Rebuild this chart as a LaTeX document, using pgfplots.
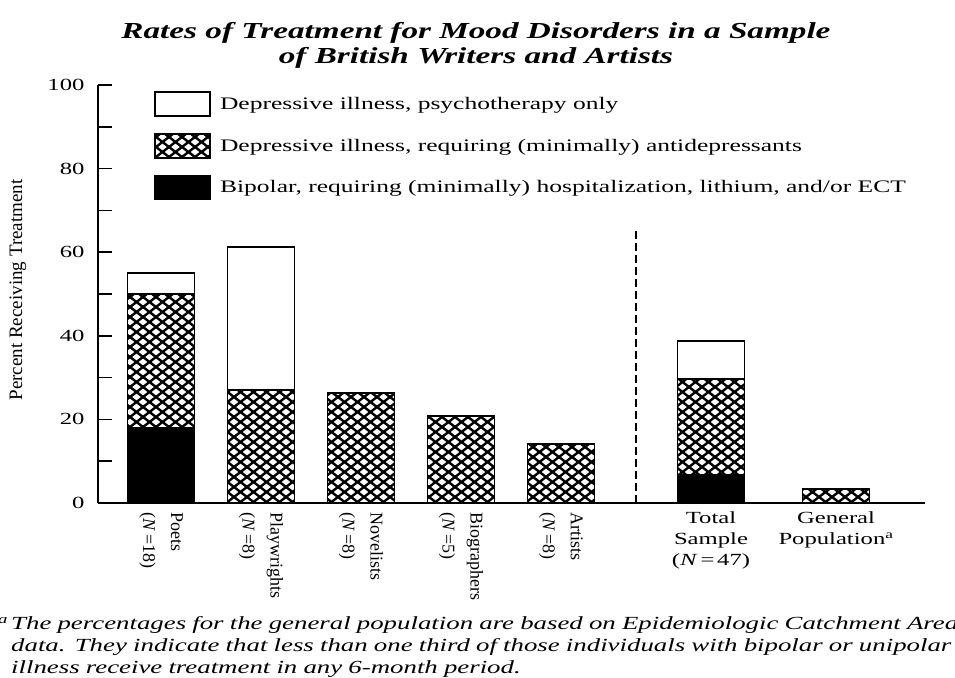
\documentclass[border=0pt]{standalone}
\usepackage{fontspec}
\setmainfont{Liberation Serif}[FakeStretch=1.45]
\newfontfamily\plainfont{Liberation Serif}
\usepackage{pgfplots}
\pgfplotsset{compat=1.18}
\usetikzlibrary{patterns}

\pgfdeclarepatternformonly{bigcross}{\pgfpoint{-2pt}{-2pt}}{\pgfpoint{15pt}{12pt}}{\pgfpoint{13pt}{10pt}}{%
  \pgfsetlinewidth{2.4pt}%
  \pgfpathmoveto{\pgfpoint{0pt}{0pt}}\pgfpathlineto{\pgfpoint{13pt}{10pt}}%
  \pgfpathmoveto{\pgfpoint{0pt}{10pt}}\pgfpathlineto{\pgfpoint{13pt}{0pt}}%
  \pgfusepath{stroke}}

\pgfplotsset{mylegend/.style={legend image code/.code={%
  \draw[##1, line width=1.6pt] (0pt,-12pt) rectangle (55pt,12pt);
  \path (62pt,0pt);}}}

\tikzset{vlab/.style={rotate=-90, anchor=west, align=left, font=\plainfont\fontsize{18}{28}\selectfont, inner sep=0pt}}

\begin{document}
\begin{tikzpicture}[x=1pt,y=1pt]
\useasboundingbox (0,0) rectangle (955,677);
\begin{axis}[
  at={(98pt,174pt)}, anchor=south west,
  scale only axis, width=827pt, height=418pt,
  xmin=-0.63, xmax=7.64, ymin=0, ymax=100,
  axis x line=bottom, axis y line=left,
  axis line style={line width=1.8pt, -},
  ytick={0,20,...,100}, minor ytick={10,30,...,90},
  xtick=\empty,
  tick style={line width=1.5pt, black},
  major tick length=14pt, minor tick length=14pt,
  tick align=inside,
  yticklabel style={font=\fontsize{17}{17}\selectfont, xshift=-10pt},
  /pgf/number format/assume math mode=true,
  ybar stacked, bar width=67pt,
  clip=false,
  reverse legend,
  legend style={at={(rel axis cs:0.068,0.985)}, anchor=north west,
    draw=none, fill=none, font=\fontsize{17.6}{17.6}\selectfont,
    row sep=16pt, inner sep=0pt, cells={anchor=west}},
  legend cell align=left,
]
\addplot[fill=black, draw=black, line width=1.6pt, mylegend]
  coordinates {(0,18) (1,0) (2,0) (3,0) (4,0) (5.5,6.7) (6.75,0)};
\addplot[pattern=bigcross, draw=black, line width=1.6pt, mylegend]
  coordinates {(0,32) (1,27) (2,26.3) (3,20.8) (4,14.1) (5.5,23) (6.75,3.3)};
\addplot[fill=white, draw=black, line width=1.6pt, mylegend]
  coordinates {(0,5) (1,34.2) (2,0) (3,0) (4,0) (5.5,9.1) (6.75,0)};
\legend{Bipolar{,} requiring (minimally) hospitalization{,} lithium{,} and/or ECT,
  Depressive illness{,} requiring (minimally) antidepressants,
  Depressive illness{,} psychotherapy only}

\draw[line width=1.6pt, dash pattern=on 8pt off 4pt] (axis cs:4.75,0) -- (axis cs:4.75,65);

\node[vlab] at (axis cs:0,-2.2) {Poets\\(\textit{N}\,=18)};
\node[vlab] at (axis cs:1,-2.2) {Playwrights\\(\textit{N}\,=8)};
\node[vlab] at (axis cs:2,-2.2) {Novelists\\(\textit{N}\,=8)};
\node[vlab] at (axis cs:3,-2.2) {Biographers\\(\textit{N}\,=5)};
\node[vlab] at (axis cs:4,-2.2) {Artists\\(\textit{N}\,=8)};
\node[anchor=north, align=center, font=\fontsize{17}{21}\selectfont, inner sep=0pt]
  at (axis cs:5.5,-2) {Total\\Sample\\(\textit{N}\,=\,47)};
\node[anchor=north, align=center, font=\fontsize{17}{21}\selectfont, inner sep=0pt]
  at (axis cs:6.75,-2) {General\\Population\textsuperscript{a}};
\end{axis}

\node[rotate=90, font=\plainfont\fontsize{19}{19}\selectfont] at (18,387) {Percent Receiving Treatment};

\node[align=center, font=\fontsize{22.9}{25}\selectfont\bfseries\itshape] at (476,632)
  {Rates of Treatment for Mood Disorders in a Sample\\of British Writers and Artists};

\node[anchor=base west, align=left, inner sep=0pt, text width=1100pt,
  font=\fontsize{18.5}{22}\selectfont\itshape] at (11,47)
  {\llap{\textsuperscript{a}\,}The percentages for the general population are based on Epidemiologic Catchment Area\\
   data. They indicate that less than one third of those individuals with bipolar or unipolar\\
   illness receive treatment in any 6-month period.};
\end{tikzpicture}
\end{document}
